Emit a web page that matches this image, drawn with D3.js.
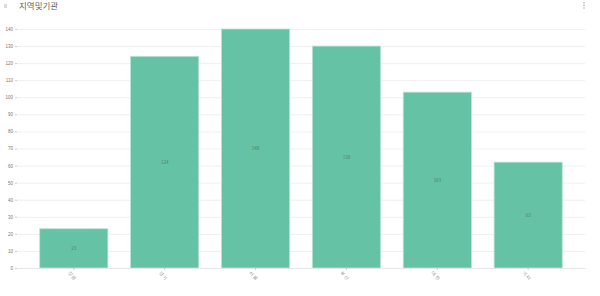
<!DOCTYPE html>
<html>
<head>
<meta charset="utf-8">
<script src="https://cdn.jsdelivr.net/npm/d3@7"></script>
<style>
  body { margin: 0; background: #fff; font-family: "Noto Sans CJK KR", "Noto Sans", sans-serif; }
  .grid line { stroke: #efefef; }
  .grid path { display: none; }
  .axis-y path { display: none; }
  .axis-y line { stroke: #cccccc; }
  .axis-y text { fill: #777; font-size: 4.5px; }
  .axis-x path { stroke: #e6e6e6; }
  .axis-x line { stroke: #cccccc; }
  .axis-x text { fill: #888; font-size: 4.5px; }
</style>
</head>
<body>
<div id="chart"></div>
<script>
// Data
const categories = ["강원", "경기", "서울", "부산", "대전", "기타"];
const values = [23, 124, 140, 130, 103, 62];
const yTicks = [0, 10, 20, 30, 40, 50, 60, 70, 80, 90, 100, 110, 120, 130, 140];

const width = 600;
const height = 296;
const margin = { top: 29, right: 15, bottom: 28, left: 17 };
const innerWidth = width - margin.left - margin.right;
const innerHeight = height - margin.top - margin.bottom;

const svg = d3.select("#chart")
    .append("svg")
    .attr("width", width)
    .attr("height", height);

// header
svg.append("rect")
    .attr("x", 4).attr("y", 4)
    .attr("width", 3).attr("height", 4)
    .attr("fill", "#dcdcdc");

svg.append("text")
    .attr("x", 19)
    .attr("y", 9)
    .attr("font-size", 8.5)
    .attr("fill", "#666")
    .text("지역및기관");

[3, 5.5, 8].forEach(cy => {
    svg.append("circle")
        .attr("cx", 584).attr("cy", cy).attr("r", 0.8)
        .attr("fill", "#aaa");
});

const innerChart = svg.append("g")
    .attr("transform", `translate(${margin.left}, ${margin.top})`);

const xScale = d3.scaleBand()
    .domain(categories)
    .range([0, innerWidth])
    .paddingInner(0.25)
    .paddingOuter(0.25);

const yScale = d3.scaleLinear()
    .domain([0, 140])
    .range([innerHeight, 0]);

innerChart.append("g")
    .attr("class", "grid")
    .call(d3.axisLeft(yScale).tickValues(yTicks).tickSize(-innerWidth).tickFormat(""));

innerChart.append("g")
    .attr("class", "axis-y")
    .call(d3.axisLeft(yScale).tickValues(yTicks).tickSize(2).tickPadding(2));

innerChart.selectAll("rect.bar")
    .data(values)
    .join("rect")
    .attr("class", "bar")
    .attr("x", (d, i) => xScale(categories[i]))
    .attr("y", d => yScale(d))
    .attr("width", xScale.bandwidth())
    .attr("height", d => innerHeight - yScale(d))
    .attr("fill", "#66c2a5")
    .attr("stroke", "#b8e3d5")
    .attr("stroke-width", 0.8);

innerChart.selectAll("text.val")
    .data(values)
    .join("text")
    .attr("class", "val")
    .attr("x", (d, i) => xScale(categories[i]) + xScale.bandwidth() / 2)
    .attr("y", d => (yScale(d) + innerHeight) / 2)
    .attr("dy", "0.35em")
    .attr("text-anchor", "middle")
    .attr("font-size", 4.5)
    .attr("fill", "#4a7d6b")
    .text(d => d);

innerChart.append("g")
    .attr("class", "axis-x")
    .attr("transform", `translate(0, ${innerHeight})`)
    .call(d3.axisBottom(xScale).tickSize(2).tickPadding(2).tickSizeOuter(0))
    .selectAll("text")
    .attr("text-anchor", "start")
    .attr("transform", "translate(-1, 0) rotate(45)");
</script>
</body>
</html>
